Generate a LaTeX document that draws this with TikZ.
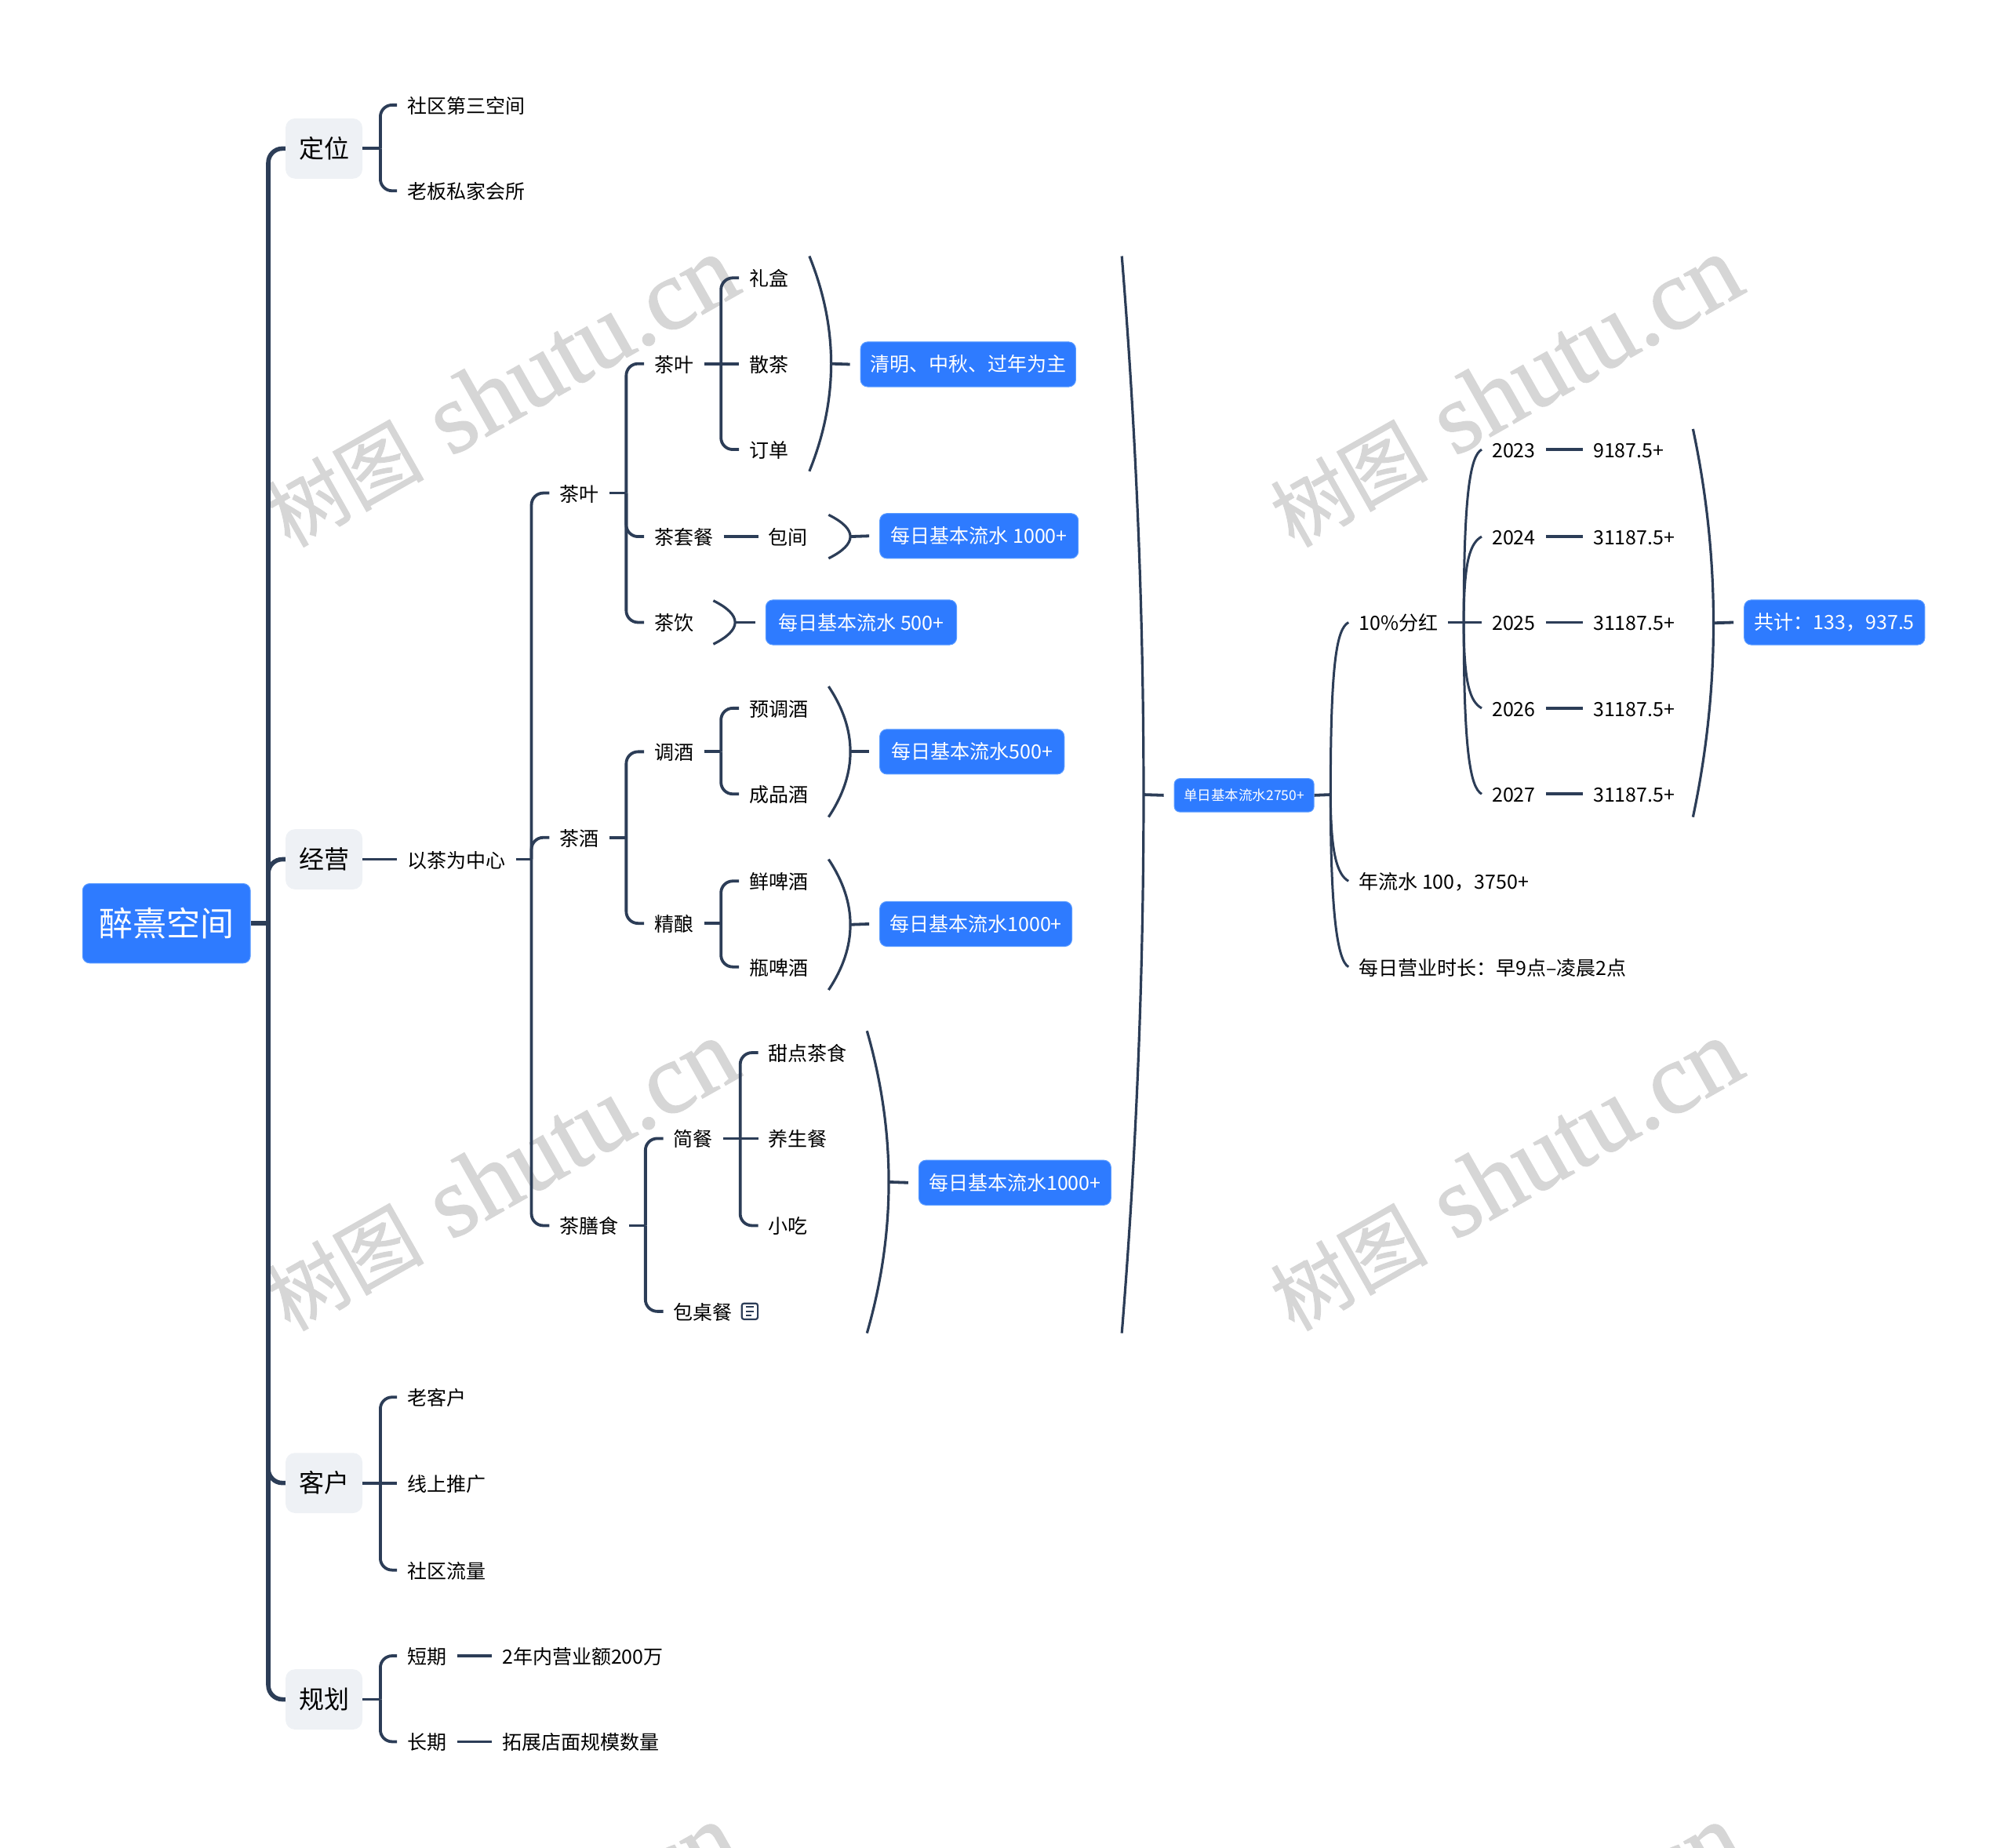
\documentclass[tikz,border=0pt]{standalone}
\usepackage{fontspec}
\setmainfont{Noto Sans CJK SC}
\newfontfamily\wmserif[FakeBold=1.2]{Liberation Serif}
\newfontfamily\wmcjk[FakeBold=1.0]{Noto Sans CJK SC}
\usetikzlibrary{calc}
\definecolor{lnk}{HTML}{2C3D57}
\definecolor{bluebg}{HTML}{2E7BFF}
\definecolor{bluebd}{HTML}{5A9BFF}
\definecolor{greybg}{HTML}{EEF1F5}
\definecolor{wmc}{HTML}{D6D6D6}
\def\unitk{1.6327}
\tikzset{
  x=1.6327pt,y=-1.6327pt,
  txt/.style={anchor=west,inner xsep=13pt,inner ysep=2pt,text height=24.4pt,text depth=3.4pt,font=\fontsize{25}{25}\selectfont,text=black},
  rootbox/.style={fill=bluebg,draw=bluebd,line width=1pt,rounded corners=9pt,text=white,font=\fontsize{43}{43}\selectfont,inner sep=0pt},
  lonebox/.style={fill=greybg,rounded corners=12pt,text=black,font=\fontsize{32}{32}\selectfont,inner sep=0pt,minimum width=\unitk*60pt,minimum height=\unitk*47pt},
  bluebox/.style={fill=bluebg,draw=bluebd,line width=1pt,rounded corners=9pt,text=white,font=\fontsize{25}{25}\selectfont,inner sep=0pt},
  wm/.style={rotate=29.5,anchor=base west,text=wmc,inner sep=0pt},
  thick link/.style={draw=lnk,line width=5.6pt},
  link/.style={draw=lnk,line width=3.8pt},
  arm/.style={draw=lnk,line width=3.8pt,rounded corners=15pt},
  bigarm/.style={draw=lnk,line width=5.6pt,rounded corners=18pt},
  curve/.style={draw=lnk,line width=3pt},
  brc/.style={draw=lnk,line width=3.2pt},
}
% right-facing brace: name, x left, x right, y top, y bottom
\newcommand{\rbrc}[5]{%
  \pgfmathsetmacro{\brcmid}{(#4+#5)/2}%
  \pgfmathsetmacro{\brch}{(#5-#4)/2}%
  \pgfmathsetmacro{\brcd}{#3-#2}%
  \coordinate (#1) at (#3,\brcmid);
  \draw[brc] (#2,#4) .. controls +(0.667*\brcd,0.333*\brch) and +(0,-0.333*\brch) .. (#1)
     .. controls +(0,0.333*\brch) and +(0.667*\brcd,-0.333*\brch) .. (#2,#5);
}
\begin{document}
\begin{tikzpicture}
\useasboundingbox (0,0) rectangle (1568,1443);
% watermarks
\foreach \wmx/\wmy/\wmn in {226/428/a,1010/428/b,226/1040/c,1010/1040/d,226/1652/e,1010/1652/f}{
  \node[wm] (wm\wmn) at (\wmx,\wmy) {{\fontsize{100}{100}\selectfont\wmcjk 树图}\hspace{36pt}{\fontsize{128}{128}\selectfont\wmserif shutu.cn}};
}
% root and first level
\node[rootbox,minimum width=\unitk*131pt,minimum height=\unitk*62pt] (root) at (130,721) {醉熹空间};
\node[lonebox] (dw) at (253,116) {定位};
\node[lonebox] (jy) at (253,671) {经营};
\node[lonebox] (kh) at (253,1158) {客户};
\node[lonebox] (gh) at (253,1327) {规划};
\coordinate (t0) at (209.5,721);
\draw[thick link] (root.east) -- (t0);
\foreach \c in {dw,jy,kh,gh}{\draw[bigarm] (t0) |- (\c.west);}
% 定位
\node[txt] (dw1) at (310,82) {社区第三空间};
\node[txt] (dw2) at (310,149) {老板私家会所};
\coordinate (tdw) at (297,116);
\draw[link] (dw.east) -- (tdw);
\foreach \c in {dw1,dw2}{\draw[arm] (tdw) |- (\c.west);}
% 客户
\node[txt] (kh1) at (310,1091) {老客户};
\node[txt] (kh2) at (310,1158) {线上推广};
\node[txt] (kh3) at (310,1226) {社区流量};
\coordinate (tkh) at (297,1158);
\draw[link] (kh.east) -- (kh2.west);
\foreach \c in {kh1,kh3}{\draw[arm] (tkh) |- (\c.west);}
% 规划
\node[txt] (gh1) at (310,1293) {短期};
\node[txt] (gh2) at (310,1360) {长期};
\node[txt] (gh1a) at (384,1293) {2年内营业额200万};
\node[txt] (gh2a) at (384,1360) {拓展店面规模数量};
\coordinate (tgh) at (297,1327);
\draw[link] (gh.east) -- (tgh);
\foreach \c in {gh1,gh2}{\draw[arm] (tgh) |- (\c.west);}
\draw[link] (gh1.east) -- (gh1a.west);
\draw[link] (gh2.east) -- (gh2a.west);
% 经营
\node[txt] (core) at (310,671) {以茶为中心};
\draw[link] (jy.east) -- (core.west);
\coordinate (t1) at (415,671);
\draw[link] (core.east) -- (t1);
\node[txt] (tea) at (429,385) {茶叶};
\node[txt] (wine) at (429,654) {茶酒};
\node[txt] (food) at (429,957) {茶膳食};
\foreach \c in {tea,wine,food}{\draw[arm] (t1) |- (\c.west);}
% 茶叶 branch
\coordinate (t2) at (489,385);
\draw[link] (tea.east) -- (t2);
\node[txt] (leaf) at (503,284) {茶叶};
\node[txt] (set) at (503,419) {茶套餐};
\node[txt] (drink) at (503,486) {茶饮};
\foreach \c in {leaf,set,drink}{\draw[arm] (t2) |- (\c.west);}
\coordinate (t3) at (563,284);
\node[txt] (gift) at (577,217) {礼盒};
\node[txt] (loose) at (577,284) {散茶};
\node[txt] (order) at (577,351) {订单};
\draw[link] (leaf.east) -- (loose.west);
\foreach \c in {gift,order}{\draw[arm] (t3) |- (\c.west);}
\rbrc{b1}{632}{649}{200}{368}
\node[bluebox,minimum width=\unitk*168pt,minimum height=\unitk*35pt] (v1) at (756,284.5) {清明、中秋、过年为主};
\draw[link] (b1) -- ([xshift=-13pt]v1.west);
\node[txt] (room) at (592,419) {包间};
\draw[link] (set.east) -- (room.west);
\rbrc{b2}{647}{664}{402}{436}
\node[bluebox,minimum width=\unitk*155pt,minimum height=\unitk*35pt] (v2) at (764.5,418.5) {每日基本流水 1000+};
\draw[link] (b2) -- ([xshift=-13pt]v2.west);
\rbrc{b3}{557}{574}{469}{503}
\node[bluebox,minimum width=\unitk*149pt,minimum height=\unitk*35pt] (v3) at (672.5,486) {每日基本流水 500+};
\draw[link] (b3) -- ([xshift=-13pt]v3.west);
% 茶酒 branch
\coordinate (t4) at (489,654);
\draw[link] (wine.east) -- (t4);
\node[txt] (mix) at (503,587) {调酒};
\node[txt] (craft) at (503,721) {精酿};
\foreach \c in {mix,craft}{\draw[arm] (t4) |- (\c.west);}
\coordinate (t5) at (563,587);
\draw[link] (mix.east) -- (t5);
\node[txt] (mix1) at (577,553) {预调酒};
\node[txt] (mix2) at (577,620) {成品酒};
\foreach \c in {mix1,mix2}{\draw[arm] (t5) |- (\c.west);}
\rbrc{b4}{647}{664}{536}{638}
\node[bluebox,minimum width=\unitk*144pt,minimum height=\unitk*35pt] (v4) at (759,587) {每日基本流水500+};
\draw[link] (b4) -- ([xshift=-13pt]v4.west);
\coordinate (t6) at (563,721);
\draw[link] (craft.east) -- (t6);
\node[txt] (beer1) at (577,688) {鲜啤酒};
\node[txt] (beer2) at (577,755) {瓶啤酒};
\foreach \c in {beer1,beer2}{\draw[arm] (t6) |- (\c.west);}
\rbrc{b5}{647}{664}{671}{773}
\node[bluebox,minimum width=\unitk*150pt,minimum height=\unitk*35pt] (v5) at (762,721.5) {每日基本流水1000+};
\draw[link] (b5) -- ([xshift=-13pt]v5.west);
% 茶膳食 branch
\coordinate (t7) at (504,957);
\draw[link] (food.east) -- (t7);
\node[txt] (meal) at (518,889) {简餐};
\node[txt] (table) at (518,1024) {包桌餐};
\foreach \c in {meal,table}{\draw[arm] (t7) |- (\c.west);}
\node[draw=lnk,line width=2.2pt,rounded corners=3pt,minimum size=\unitk*12.5pt,inner sep=0pt] (note) at (585.5,1024) {};
\draw[lnk,line width=2.2pt] ([xshift=-5pt,yshift=5.5pt]note.center) -- ([xshift=5pt,yshift=5.5pt]note.center);
\draw[lnk,line width=2.2pt] ([xshift=-5pt]note.center) -- ([xshift=5pt]note.center);
\draw[lnk,line width=2.2pt] ([xshift=-5pt,yshift=-5.5pt]note.center) -- ([xshift=2pt,yshift=-5.5pt]note.center);
\coordinate (t8) at (578,889);
\node[txt] (m1) at (592,822) {甜点茶食};
\node[txt] (m2) at (592,889) {养生餐};
\node[txt] (m3) at (592,957) {小吃};
\draw[link] (meal.east) -- (m2.west);
\foreach \c in {m1,m3}{\draw[arm] (t8) |- (\c.west);}
\rbrc{b6}{677}{694}{805}{1041}
\node[bluebox,minimum width=\unitk*150pt,minimum height=\unitk*35pt] (v6) at (792.5,923.5) {每日基本流水1000+};
\draw[link] (b6) -- ([xshift=-13pt]v6.west);
% big brace and daily total
\rbrc{b7}{876}{893}{200}{1041}
\node[bluebox,font=\fontsize{17.5}{17.5}\selectfont,rounded corners=7pt,minimum width=\unitk*109pt,minimum height=\unitk*26pt] (day) at (971.5,621) {单日基本流水2750+};
\draw[link] (b7) -- ([xshift=-13pt]day.west);
\coordinate (t9) at (1039,620.5);
\draw[link] (day.east) -- (t9);
\node[txt] (share) at (1053,486) {10\%分红};
\node[txt] (year) at (1053,688) {年流水 100，3750+};
\node[txt] (hours) at (1053,755) {每日营业时长：早9点–凌晨2点};
\draw[curve] (t9) .. controls +(0,-105) and +(-9,5) .. (share.west);
\draw[curve] (t9) .. controls +(0,45) and +(-9,-5) .. (year.west);
\draw[curve] (t9) .. controls +(0,90) and +(-9,-5) .. (hours.west);
% dividend years
\coordinate (t10) at (1143,486);
\draw[link] (share.east) -- (t10);
\node[txt] (y3) at (1157,351) {2023};
\node[txt] (y4) at (1157,419) {2024};
\node[txt] (y5) at (1157,486) {2025};
\node[txt] (y6) at (1157,553) {2026};
\node[txt] (y7) at (1157,620) {2027};
\node[txt] (a3) at (1236,351) {9187.5+};
\node[txt] (a4) at (1236,419) {31187.5+};
\node[txt] (a5) at (1236,486) {31187.5+};
\node[txt] (a6) at (1236,553) {31187.5+};
\node[txt] (a7) at (1236,620) {31187.5+};
\draw[curve] (t10) .. controls +(0,-100) and +(-9,5) .. (y3.west);
\draw[curve] (t10) .. controls +(0,-48) and +(-9,5) .. (y4.west);
\draw[link] (t10) -- (y5.west);
\draw[curve] (t10) .. controls +(0,48) and +(-9,-5) .. (y6.west);
\draw[curve] (t10) .. controls +(0,100) and +(-9,-5) .. (y7.west);
\foreach \n in {3,...,7}{\draw[link] (y\n.east) -- (a\n.west);}
\rbrc{b8}{1322}{1338}{335}{638}
\node[bluebox,minimum width=\unitk*141pt,minimum height=\unitk*35pt] (sum) at (1432.5,486) {共计：133，937.5};
\draw[link] (b8) -- ([xshift=-13pt]sum.west);
\end{tikzpicture}
\end{document}
